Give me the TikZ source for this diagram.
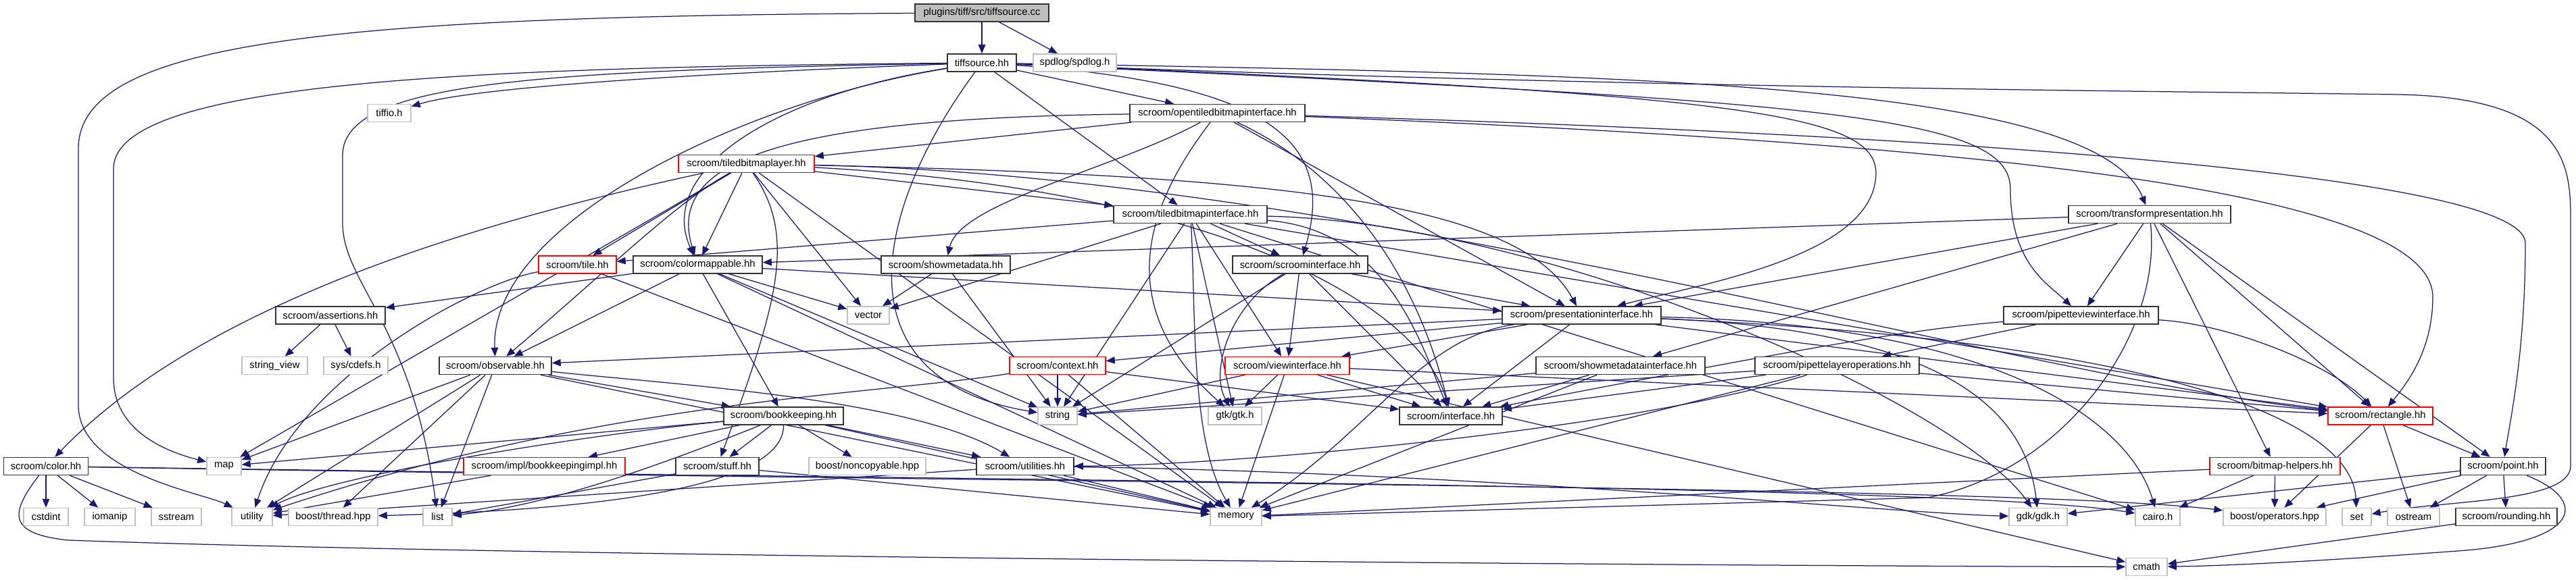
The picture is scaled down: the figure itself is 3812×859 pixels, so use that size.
\documentclass[tikz,border=0pt]{standalone}
\usepackage{fontspec}
\setmainfont{Liberation Sans}
\usetikzlibrary{arrows.meta}
\definecolor{edgeblue}{RGB}{25,25,112}
\definecolor{extgrey}{RGB}{191,191,191}
\pgfdeclarelayer{bg}
\pgfsetlayers{bg,main}
\begin{document}
\begin{tikzpicture}[x=1pt,y=-1pt,
  nb/.style={draw, rectangle, minimum height=26pt, inner sep=0pt, fill=white, line width=1.5pt, font=\fontsize{14.8}{16}\selectfont},
  blk/.style={nb, draw=black!80},
  ext/.style={nb, draw=extgrey},
  trn/.style={nb, draw=red},
  edg/.style={draw=edgeblue, line width=1.25pt, -{Triangle[length=13pt,width=10.5pt]}},
]
\path[use as bounding box] (0,0) rectangle (3812,859);

% ---------- nodes ----------
\node[blk, fill=extgrey, minimum width=198pt] (cc) at (1453,19) {plugins/tiff/src/tiffsource.cc};
\node[blk, minimum width=102pt] (tsh) at (1453,93) {tiffsource.hh};
\node[ext, minimum width=123pt] (spd) at (1590.5,93) {spdlog/spdlog.h};
\node[ext, minimum width=64pt] (tio) at (576,167.5) {tiffio.h};
\node[blk, minimum width=259pt] (otbi) at (1801.5,167.5) {scroom/opentiledbitmapinterface.hh};
\node[trn, minimum width=201pt] (tbl) at (1104.5,242.5) {scroom/tiledbitmaplayer.hh};
\node[blk, minimum width=227pt] (tbi) at (1761.5,317.5) {scroom/tiledbitmapinterface.hh};
\node[blk, minimum width=240pt] (tp) at (3181,317.5) {scroom/transformpresentation.hh};
\node[trn, minimum width=115pt] (tile) at (854.5,392) {scroom/tile.hh};
\node[blk, minimum width=191pt] (cm) at (1032.5,392) {scroom/colormappable.hh};
\node[blk, minimum width=191pt] (smd) at (1399.5,392) {scroom/showmetadata.hh};
\node[blk, minimum width=200pt] (si) at (1924,392) {scroom/scroominterface.hh};
\node[blk, minimum width=162pt] (ass) at (489,467) {scroom/assertions.hh};
\node[ext, minimum width=62pt] (vec) at (1285,467) {vector};
\node[blk, minimum width=235pt] (pi) at (2340.5,467) {scroom/presentationinterface.hh};
\node[blk, minimum width=229pt] (pvi) at (3079.5,467) {scroom/pipetteviewinterface.hh};
\node[ext, minimum width=97pt] (sv) at (406.5,541.5) {string\_view};
\node[ext, minimum width=95pt] (cdefs) at (526.5,541.5) {sys/cdefs.h};
\node[blk, minimum width=166pt] (obs) at (733,541.5) {scroom/observable.hh};
\node[trn, minimum width=142pt] (ctx) at (1565,541.5) {scroom/context.hh};
\node[trn, minimum width=184pt] (vi) at (1905,541.5) {scroom/viewinterface.hh};
\node[blk, minimum width=250pt] (smdi) at (2398,541.5) {scroom/showmetadatainterface.hh};
\node[blk, minimum width=243pt] (plo) at (2718.5,541.5) {scroom/pipettelayeroperations.hh};
\node[blk, minimum width=177pt] (bk) at (1159.5,616) {scroom/bookkeeping.hh};
\node[ext, minimum width=58pt] (str) at (1565,616) {string};
\node[ext, minimum width=79pt] (gtk) at (1827.5,616) {gtk/gtk.h};
\node[blk, minimum width=152pt] (itf) at (2147,616) {scroom/interface.hh};
\node[trn, minimum width=155pt] (rect) at (3522.5,616) {scroom/rectangle.hh};
\node[blk, minimum width=125pt] (color) at (68,690.5) {scroom/color.hh};
\node[ext, minimum width=51pt] (map) at (331.5,690.5) {map};
\node[trn, minimum width=239pt] (bki) at (805.5,690.5) {scroom/impl/bookkeepingimpl.hh};
\node[blk, minimum width=123pt] (stuff) at (1061.5,690.5) {scroom/stuff.hh};
\node[ext, minimum width=173pt] (nc) at (1283.5,690.5) {boost/noncopyable.hpp};
\node[blk, minimum width=144pt] (util) at (1517,690.5) {scroom/utilities.hh};
\node[trn, minimum width=193pt] (bh) at (3366.5,690.5) {scroom/bitmap-helpers.hh};
\node[blk, minimum width=126pt] (pt) at (3704,690.5) {scroom/point.hh};
\node[ext, minimum width=66pt] (cstdint) at (68,765.5) {cstdint};
\node[ext, minimum width=75pt] (iomanip) at (162.5,765.5) {iomanip};
\node[ext, minimum width=74pt] (sstream) at (261,765.5) {sstream};
\node[ext, minimum width=60pt] (utility) at (373,765.5) {utility};
\node[ext, minimum width=132pt] (thread) at (493,765.5) {boost/thread.hpp};
\node[ext, minimum width=43pt] (list) at (647.5,765.5) {list};
\node[ext, minimum width=76pt] (memory) at (1829,765.5) {memory};
\node[ext, minimum width=86pt] (gdk) at (3016,765.5) {gdk/gdk.h};
\node[ext, minimum width=66pt] (cairo) at (3193,765.5) {cairo.h};
\node[ext, minimum width=152pt] (ops) at (3366,765.5) {boost/operators.hpp};
\node[ext, minimum width=43pt] (set) at (3487.5,765.5) {set};
\node[ext, minimum width=77pt] (ostream) at (3571.5,765.5) {ostream};
\node[blk, minimum width=150pt] (round) at (3709,765.5) {scroom/rounding.hh};
\node[ext, minimum width=61pt] (cmath) at (3176.5,839.5) {cmath};

% ---------- edges ----------
\begin{pgfonlayer}{bg}
\fill[white] (0,0) rectangle (3812,859);
% tiffsource.cc
\draw[edg] (cc) -- (tsh);
\draw[edg] (cc) -- (spd);
\draw[edg] (cc) .. controls (500,24) and (116,60) .. (116,220) -- (116,600) .. controls (116,700) and (300,730) .. (utility);
% tiffsource.hh
\draw[edg] (tsh) .. controls (1000,110) and (700,130) .. (tio);
\draw[edg] (tsh) .. controls (700,100) and (168,120) .. (168,250) -- (168,560) .. controls (168,640) and (250,670) .. (map);
\draw[edg] (tsh) .. controls (800,105) and (507,120) .. (507,230) -- (507,330) .. controls (507,420) and (610,480) .. (list);
\draw[edg] (tsh) .. controls (1100,150) and (725,330) .. (obs);
\draw[edg] (tsh) .. controls (1150,140) and (970,250) .. (cm);
\draw[edg] (tsh) .. controls (1300,300) and (1230,560) .. (str);
\draw[edg] (tsh) -- (tbi);
\draw[edg] (tsh) -- (otbi);
\draw[edg] (tsh) .. controls (2400,110) and (3100,120) .. (tp);
\draw[edg] (tsh) .. controls (1900,125) and (1975,220) .. (si);
\draw[edg] (tsh) .. controls (2600,140) and (2780,170) .. (2776,260) .. controls (2770,380) and (2520,420) .. (pi);
\draw[edg] (tsh) .. controls (2700,150) and (2975,170) .. (2975,280) .. controls (2975,390) and (3030,420) .. (pvi);
\draw[edg] (tsh) .. controls (2400,130) and (3200,135) .. (3550,140) .. controls (3804,145) and (3804,250) .. (3804,330) -- (3804,690) .. controls (3804,745) and (3620,740) .. (set);
% opentiledbitmapinterface
\draw[edg] (otbi) -- (tbl);
\draw[edg] (otbi) .. controls (1150,175) and (985,240) .. (cm);
\draw[edg] (otbi) .. controls (1650,250) and (1420,300) .. (smd);
\draw[edg] (otbi) .. controls (1700,300) and (1640,450) .. (gtk);
\draw[edg] (otbi) -- (pi);
\draw[edg] (otbi) .. controls (2000,260) and (2100,420) .. (itf);
\draw[edg] (otbi) .. controls (3000,215) and (3600,290) .. (3600,440) .. controls (3600,520) and (3560,570) .. (rect);
\draw[edg] (otbi) .. controls (2900,200) and (3737,260) .. (3737,360) .. controls (3737,520) and (3715,620) .. (pt);
% tiledbitmaplayer
\draw[edg] (tbl) -- (tile);
\draw[edg] (tbl) -- (tbi);
\draw[edg] (tbl) -- (cm);
\draw[edg] (tbl) .. controls (1000,300) and (900,400) .. (obs);
\draw[edg] (tbl) .. controls (1180,350) and (1150,450) .. (stuff);
\draw[edg] (tbl) -- (vec);
\draw[edg] (tbl) -- (map);
\draw[edg] (tbl) -- (memory);
\draw[edg] (tbl) .. controls (1900,260) and (2250,300) .. (pi);
\draw[edg] (tbl) .. controls (1800,280) and (2100,450) .. (itf);
\draw[edg] (tbl) .. controls (2000,260) and (3000,560) .. (rect);
\draw[edg] (tbl) .. controls (700,330) and (300,450) .. (color);
% tiledbitmapinterface
\draw[edg] (tbi) -- (tile);
\draw[edg] (tbi) -- (si);
\draw[edg] (tbi) -- (vi);
\draw[edg] (tbi) -- (vec);
\draw[edg] (tbi) .. controls (1770,450) and (1760,650) .. (memory);
\draw[edg] (tbi) -- (str);
\draw[edg] (tbi) -- (gtk);
\draw[edg] (tbi) .. controls (2050,340) and (2100,500) .. (itf);
\draw[edg] (tbi) -- (rect);
\draw[edg] (tbi) -- (cairo);
\draw[edg] (tbi) .. controls (2300,330) and (2900,600) .. (gdk);
% transformpresentation
\draw[edg] (tp) -- (cm);
\draw[edg] (tp) -- (pi);
\draw[edg] (tp) -- (smdi);
\draw[edg] (tp) -- (pvi);
\draw[edg] (tp) .. controls (3200,500) and (3050,700) .. (2852,737) -- (memory);
\draw[edg] (tp) -- (bh);
\draw[edg] (tp) -- (rect);
\draw[edg] (tp) -- (pt);
% presentationinterface
\draw[edg] (pi) -- (obs);
\draw[edg] (pi) -- (ctx);
\draw[edg] (pi) -- (vi);
\draw[edg] (pi) -- (itf);
\draw[edg] (pi) .. controls (2100,500) and (2020,650) .. (memory);
\draw[edg] (pi) .. controls (2900,490) and (3000,620) .. (gdk);
\draw[edg] (pi) .. controls (2950,480) and (3150,620) .. (cairo);
\draw[edg] (pi) -- (rect);
\draw[edg] (pi) .. controls (3100,500) and (3480,600) .. (set);
% viewinterface
\draw[edg] (vi) -- (str);
\draw[edg] (vi) -- (gtk);
\draw[edg] (vi) -- (memory);
\draw[edg] (vi) -- (itf);
\draw[edg] (vi) -- (rect);
\draw[edg] (vi) -- (cmath);
% showmetadatainterface
\draw[edg] (smdi) -- (itf);
\draw[edg] (smdi) -- (memory);
\draw[edg] (smdi) -- (str);
% pipettelayeroperations
\draw[edg] (plo) -- (itf);
\draw[edg] (plo) -- (memory);
\draw[edg] (plo) -- (str);
\draw[edg] (plo) .. controls (2400,640) and (1800,690) .. (util);
\draw[edg] (plo) -- (rect);
% pipetteviewinterface
\draw[edg] (pvi) .. controls (2800,490) and (2600,530) .. (itf);
\draw[edg] (pvi) -- (plo);
\draw[edg] (pvi) .. controls (3300,480) and (3450,540) .. (rect);
% scroominterface
\draw[edg] (si) -- (vi);
\draw[edg] (si) -- (pi);
\draw[edg] (si) -- (itf);
\draw[edg] (si) .. controls (1820,450) and (1790,550) .. (gtk);
\draw[edg] (si) -- (str);
% context
\draw[edg] (ctx) -- (str);
\draw[edg] (ctx) -- (memory);
\draw[edg] (ctx) -- (itf);
\draw[edg] (ctx) .. controls (1300,585) and (900,590) .. (utility);
% showmetadata
\draw[edg] (smd) -- (vec);
\draw[edg] (smd) -- (str);
% colormappable
\draw[edg] (cm) -- (ass);
\draw[edg] (cm) -- (obs);
\draw[edg] (cm) -- (bk);
\draw[edg] (cm) -- (vec);
\draw[edg] (cm) -- (pi);
\draw[edg] (cm) -- (memory);
\draw[edg] (cm) -- (str);
% observable
\draw[edg] (obs) -- (map);
\draw[edg] (obs) -- (utility);
\draw[edg] (obs) -- (thread);
\draw[edg] (obs) -- (list);
\draw[edg] (obs) -- (bk);
\draw[edg] (obs) -- (memory);
\draw[edg] (obs) .. controls (1000,570) and (1350,590) .. (util);
% assertions
\draw[edg] (ass) -- (sv);
\draw[edg] (ass) -- (cdefs);
% tile
\draw[edg] (tile) .. controls (700,420) and (440,560) .. (utility);
\draw[edg] (tile) -- (memory);
% bookkeeping
\draw[edg] (bk) -- (map);
\draw[edg] (bk) .. controls (950,700) and (800,750) .. (list);
\draw[edg] (bk) .. controls (900,640) and (500,700) .. (utility);
\draw[edg] (bk) -- (stuff);
\draw[edg] (bk) -- (nc);
\draw[edg] (bk) -- (util);
\draw[edg] (bk) -- (memory);
\draw[edg] (bk) .. controls (1160,700) and (1000,752) .. (thread);
\draw[edg] (bk) -- (bki);
\draw[edg] (bki) -- (utility);
% stuff, utilities
\draw[edg] (stuff) -- (list);
\draw[edg] (stuff) -- (memory);
\draw[edg] (util) -- (memory);
\draw[edg] (util) -- (utility);
\draw[edg] (util) .. controls (2200,700) and (2800,760) .. (gdk);
% color
\draw[edg] (color) -- (cstdint);
\draw[edg] (color) -- (iomanip);
\draw[edg] (color) -- (sstream);
\draw[edg] (color) .. controls (15,760) and (10,790) .. (100,800) .. controls (800,825) and (2500,838) .. (cmath);
\draw[edg] (color) .. controls (1500,715) and (3000,720) .. (ops);
\draw[edg] (color) .. controls (1500,712) and (2900,718) .. (cairo);
% bitmap-helpers, rectangle, point, rounding
\draw[edg] (bh) -- (cairo);
\draw[edg] (bh) -- (ops);
\draw[edg] (bh) -- (memory);
\draw[edg] (rect) -- (ops);
\draw[edg] (rect) -- (ostream);
\draw[edg] (rect) -- (pt);
\draw[edg] (pt) -- (gdk);
\draw[edg] (pt) -- (ops);
\draw[edg] (pt) -- (ostream);
\draw[edg] (pt) -- (round);
\draw[edg] (pt) .. controls (3830,740) and (3820,800) .. (3650,815) .. controls (3450,830) and (3300,838) .. (cmath);
\draw[edg] (round) -- (cmath);
\end{pgfonlayer}
\end{tikzpicture}
\end{document}
